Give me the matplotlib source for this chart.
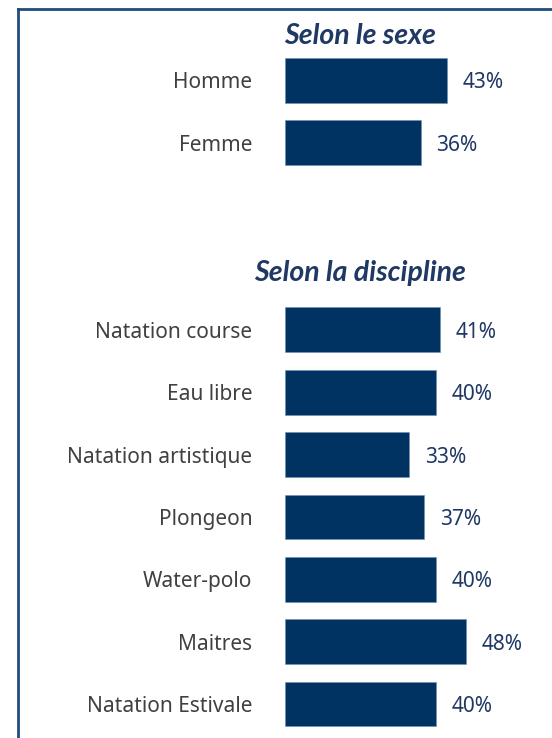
import matplotlib.pyplot as plt
from matplotlib.lines import Line2D

# data
sex_labels = ['Homme', 'Femme']
sex_values = [43, 36]
disc_labels = ['Natation course', 'Eau libre', 'Natation artistique', 'Plongeon',
               'Water-polo', 'Maitres', 'Natation Estivale']
disc_values = [41, 40, 33, 37, 40, 48, 40]

bar_color = '#003262'
text_blue = '#1f3864'
label_grey = '#404040'
font = ['Noto Sans', 'DejaVu Sans']
title_font = ['Lato', 'DejaVu Sans']

W, H = 552, 738
fig = plt.figure(figsize=(W / 100, H / 100), dpi=100)

# one axes; sexes at slots 0-1, disciplines at slots 4-10
slot = 62.35
ax = fig.add_axes([285 / W, 0, 264 / W, 1])
ypos = list(range(len(sex_labels))) + [4 + i for i in range(len(disc_labels))]
labels = sex_labels + disc_labels
values = sex_values + disc_values

ax.barh(ypos, values, height=0.72, color=bar_color, edgecolor='#6f8fb5', linewidth=0.4)
ax.set_xlim(0, 264 / 3.77)
ax.set_ylim((H - 80.5) / slot, -80.5 / slot)

ax.set_yticks(ypos)
ax.set_yticklabels(labels, family=font, fontsize=15, color=label_grey)
ax.tick_params(axis='y', length=0, pad=23.5)
ax.set_xticks([])
for s in ax.spines.values():
    s.set_visible(False)

for y, v in zip(ypos, values):
    ax.text(v + 4.2, y + 0.04, f'{v}%', va='center', ha='left',
            family=font, fontsize=15, color=text_blue)

# section titles
fig.text(360 / W, 1 - 36 / H, 'Selon le sexe', ha='center', va='center',
         family=title_font, fontsize=20.5, fontweight='bold', style='italic', color=text_blue)
fig.text(360 / W, 1 - 273 / H, 'Selon la discipline', ha='center', va='center',
         family=title_font, fontsize=20.5, fontweight='bold', style='italic', color=text_blue)

# frame (left and top edges visible)
fc = '#1f4e79'
fig.add_artist(Line2D([18 / W, 18 / W], [0, 1 - 9 / H], transform=fig.transFigure,
                      color=fc, linewidth=2))
fig.add_artist(Line2D([18 / W, 1], [1 - 9 / H, 1 - 9 / H], transform=fig.transFigure,
                      color=fc, linewidth=2))

fig.savefig('out.png', dpi=100)
